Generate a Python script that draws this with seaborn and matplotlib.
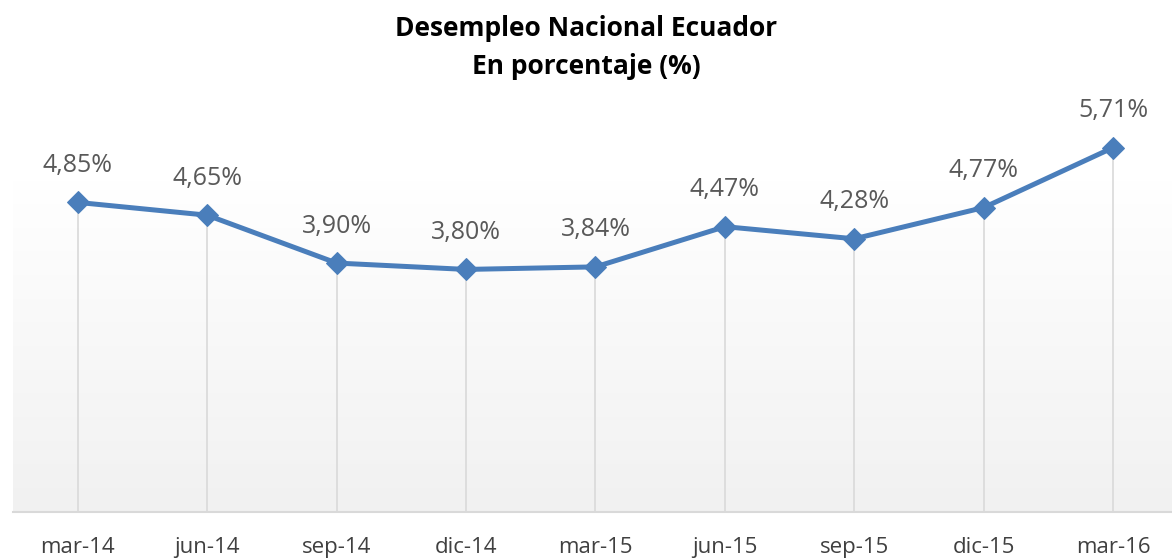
import numpy as np
import pandas as pd
import seaborn as sns
import matplotlib.pyplot as plt
from matplotlib.colors import LinearSegmentedColormap

# Data
periods = ["mar-14", "jun-14", "sep-14", "dic-14", "mar-15", "jun-15", "sep-15", "dic-15", "mar-16"]
desempleo = [4.85, 4.65, 3.90, 3.80, 3.84, 4.47, 4.28, 4.77, 5.71]

df = pd.DataFrame({"pos": range(len(periods)), "periodo": periods, "valor": desempleo})

sns.set_style("white")
plt.rcParams["font.family"] = ["Open Sans", "DejaVu Sans"]

fig = plt.figure(figsize=(11.72, 5.59), dpi=100)
ax = fig.add_axes([13 / 1172, 1 - 512 / 559, (1178 - 13) / 1172, (512 - 129) / 559])

# background gradient: light grey at bottom fading to white at top
ax.imshow(np.linspace(0, 1, 256).reshape(-1, 1),
          cmap=LinearSegmentedColormap.from_list("g", ["#f1f1f1", "#ffffff"]),
          aspect="auto", extent=[-0.5, 8.5, 0, 5.2], origin="lower", zorder=0)

# drop lines
ax.vlines(df["pos"], 0, df["valor"], color="#d9d9d9", linewidth=1.2, zorder=1)

sns.lineplot(data=df, x="pos", y="valor", ax=ax, color="#4a7ebb", linewidth=3.6,
             marker="D", markersize=11, markeredgecolor="#4a7ebb", sort=False, zorder=3)

for x, v in zip(df["pos"], df["valor"]):
    ax.text(x, v + 0.58, f"{v:.2f}%".replace(".", ","), ha="center", va="center",
            fontsize=18, color="#595959")

ax.set_xlim(-0.5, 8.5)
ax.set_ylim(0, 6)
ax.set_xticks(df["pos"])
ax.set_xticklabels(periods, fontsize=16, color="#404040")
ax.tick_params(axis="x", length=0, pad=18)
ax.set_yticks([])
ax.set_xlabel("")
ax.set_ylabel("")
for s in ["top", "left", "right"]:
    ax.spines[s].set_visible(False)
ax.spines["bottom"].set_color("#d9d9d9")
ax.spines["bottom"].set_linewidth(1.5)
ax.patch.set_alpha(0)

fig.text(0.5, 1 - 28 / 559, "Desempleo Nacional Ecuador", ha="center", va="center",
         fontsize=19, fontweight="bold", color="black")
fig.text(0.5, 1 - 66 / 559, "En porcentaje (%)", ha="center", va="center",
         fontsize=19, fontweight="bold", color="black")

fig.savefig("out.png", dpi=100)
